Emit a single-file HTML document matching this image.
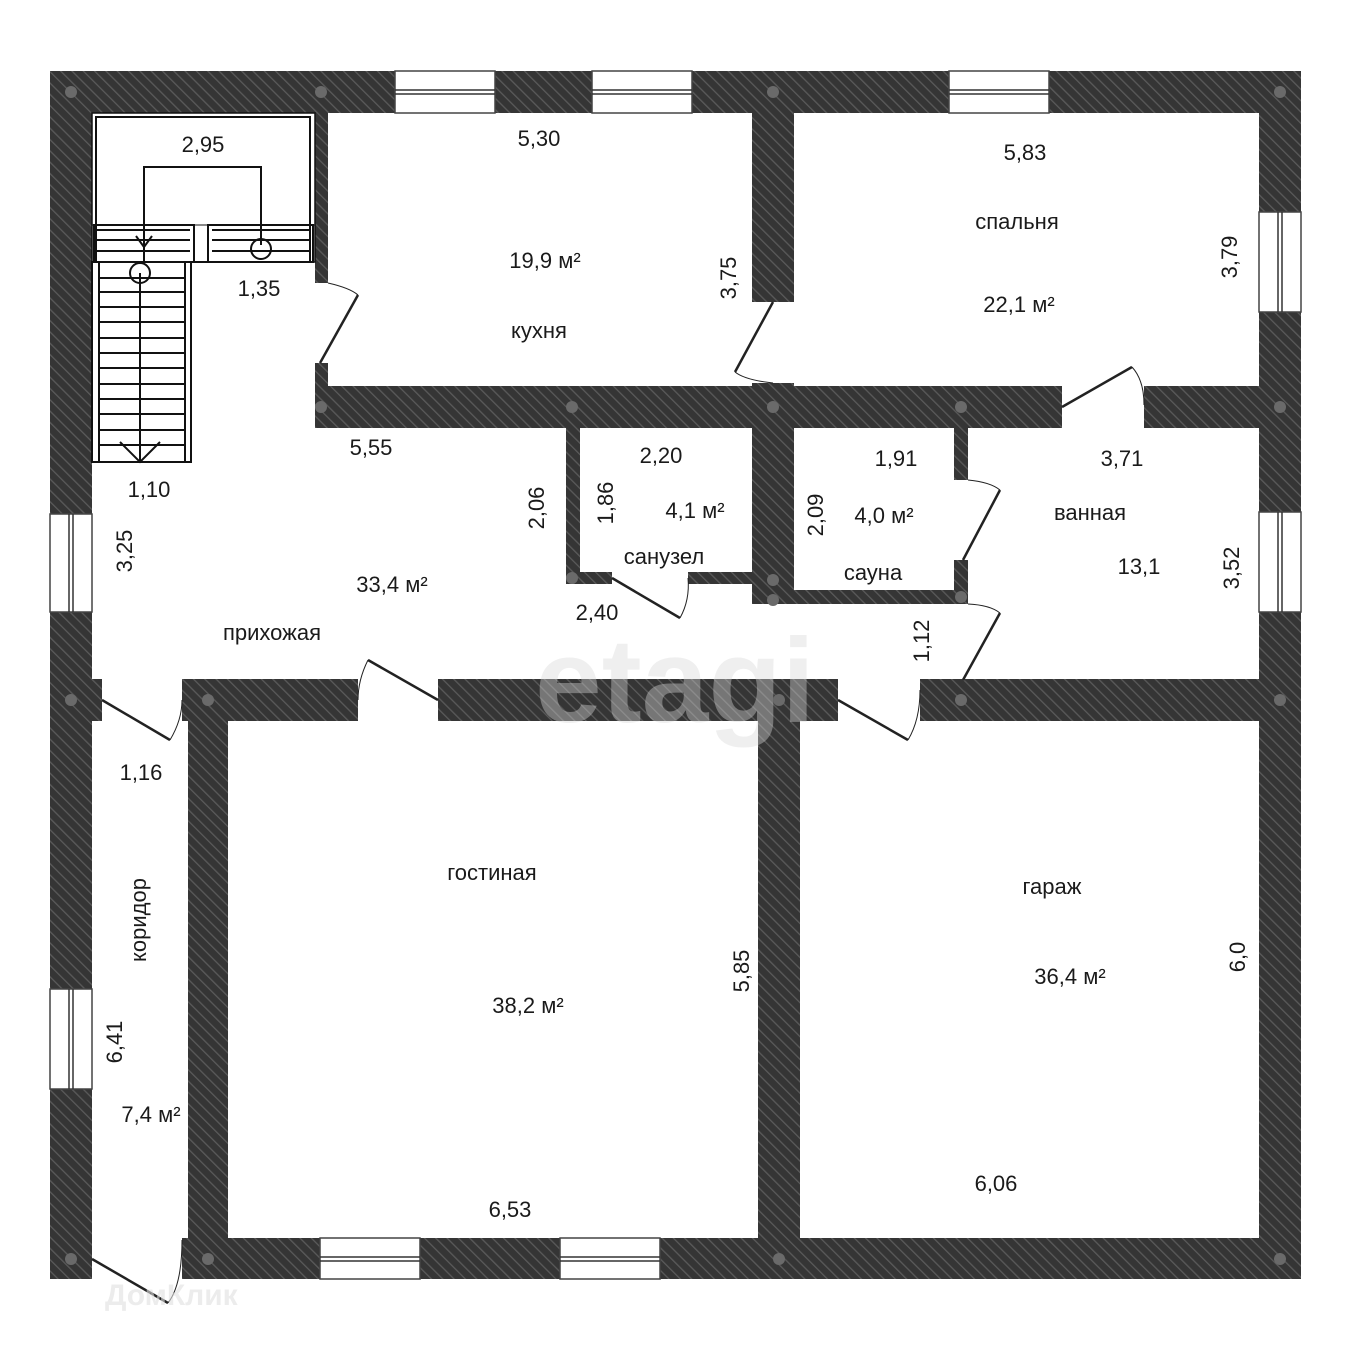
<!DOCTYPE html>
<html><head><meta charset="utf-8"><style>
html,body{margin:0;padding:0;background:#fff;}
svg{display:block;}
text{font-family:"Liberation Sans",sans-serif;font-size:22px;fill:#1a1a1a;}
</style></head><body>
<svg width="1351" height="1351" viewBox="0 0 1351 1351" xmlns="http://www.w3.org/2000/svg">
<defs>
<pattern id="h" width="8" height="8" patternUnits="userSpaceOnUse" patternTransform="rotate(-45)">
<rect width="8" height="8" fill="#353535"/>
<rect width="1.3" height="8" fill="#5a5a5a"/>
</pattern>
</defs>
<rect width="1351" height="1351" fill="#fff"/>
<g fill="url(#h)">
<rect x="50" y="71" width="1251" height="42"/>
<rect x="50" y="71" width="42" height="1208"/>
<rect x="1259" y="71" width="42" height="1208"/>
<rect x="182" y="1238" width="1119" height="41"/>
<rect x="50" y="1238" width="42" height="41"/>
<rect x="315" y="113" width="13" height="170"/>
<rect x="315" y="363" width="13" height="65"/>
<rect x="315" y="386" width="747" height="42"/>
<rect x="1144" y="386" width="115" height="42"/>
<rect x="752" y="113" width="42" height="189"/>
<rect x="752" y="383" width="42" height="45"/>
<rect x="566" y="428" width="14" height="156"/>
<rect x="566" y="572" width="46" height="12"/>
<rect x="688" y="572" width="64" height="12"/>
<rect x="752" y="428" width="42" height="176"/>
<rect x="794" y="590" width="172" height="14"/>
<rect x="954" y="428" width="14" height="52"/>
<rect x="954" y="560" width="14" height="44"/>
<rect x="50" y="679" width="52" height="42"/>
<rect x="182" y="679" width="176" height="42"/>
<rect x="438" y="679" width="400" height="42"/>
<rect x="920" y="679" width="339" height="42"/>
<rect x="188" y="679" width="40" height="600"/>
<rect x="758" y="679" width="42" height="600"/>
</g>
<text x="675" y="722" text-anchor="middle" style="font-size:120px;font-weight:bold;fill:#d8d8d8;opacity:0.4">etagi</text>
<g fill="#fff" stroke="#444" stroke-width="1.5">
<rect x="395" y="71" width="100" height="42"/><rect x="592" y="71" width="100" height="42"/><rect x="949" y="71" width="100" height="42"/>
<rect x="1259" y="212" width="42" height="100"/><rect x="1259" y="512" width="42" height="100"/>
<rect x="50" y="514" width="42" height="98"/><rect x="50" y="989" width="42" height="100"/>
<rect x="320" y="1238" width="100" height="41"/><rect x="560" y="1238" width="100" height="41"/>
</g>
<g stroke="#333" stroke-width="1.5">
<line x1="395" y1="90" x2="495" y2="90"/><line x1="395" y1="94" x2="495" y2="94"/>
<line x1="592" y1="90" x2="692" y2="90"/><line x1="592" y1="94" x2="692" y2="94"/>
<line x1="949" y1="90" x2="1049" y2="90"/><line x1="949" y1="94" x2="1049" y2="94"/>
<line x1="1278" y1="212" x2="1278" y2="312"/><line x1="1282" y1="212" x2="1282" y2="312"/>
<line x1="1278" y1="512" x2="1278" y2="612"/><line x1="1282" y1="512" x2="1282" y2="612"/>
<line x1="69" y1="514" x2="69" y2="612"/><line x1="73" y1="514" x2="73" y2="612"/>
<line x1="69" y1="989" x2="69" y2="1089"/><line x1="73" y1="989" x2="73" y2="1089"/>
<line x1="320" y1="1257" x2="420" y2="1257"/><line x1="320" y1="1261" x2="420" y2="1261"/>
<line x1="560" y1="1257" x2="660" y2="1257"/><line x1="560" y1="1261" x2="660" y2="1261"/>
</g>
<g fill="none" stroke="#111" stroke-width="2">
<rect x="92" y="113" width="223" height="149" stroke-width="1.5"/>
<rect x="96" y="117" width="214" height="145"/>
<line x1="92" y1="225" x2="315" y2="225" stroke-width="1"/>
<rect x="94" y="225" width="100" height="37"/>
<rect x="208" y="225" width="105" height="37"/>
<line x1="96" y1="230" x2="190" y2="230"/><line x1="96" y1="240" x2="190" y2="240"/><line x1="96" y1="251" x2="190" y2="251"/>
<line x1="212" y1="230" x2="310" y2="230"/><line x1="212" y1="240" x2="310" y2="240"/><line x1="212" y1="251" x2="310" y2="251"/>
<rect x="92" y="262" width="99" height="200"/>
<line x1="99" y1="262" x2="99" y2="462"/><line x1="185" y1="262" x2="185" y2="462"/>
<path d="M100 278H184M100 292H184M100 307H184M100 322H184M100 338H184M100 353H184M100 368H184M100 384H184M100 399H184M100 414H184M100 430H184M100 445H184"/>
<path d="M144 262V167H261V245"/>
<path d="M144 167V245M136 236L144 247L152 236"/>
<circle cx="261" cy="249" r="10"/>
<circle cx="140" cy="273" r="10"/>
<path d="M140 273V462M120 442L140 462L160 442"/>
</g>
<g fill="none" stroke="#222" stroke-width="2.5">
<line x1="320" y1="363" x2="358" y2="295"/>
<line x1="735" y1="372" x2="773" y2="302"/>
<line x1="1062" y1="407" x2="1132" y2="367"/>
<line x1="963" y1="560" x2="1000" y2="490"/>
<line x1="612" y1="578" x2="680" y2="618"/>
<line x1="963" y1="680" x2="1000" y2="613"/>
<line x1="838" y1="700" x2="908" y2="740"/>
<line x1="438" y1="700" x2="368" y2="660"/>
<line x1="102" y1="700" x2="170" y2="740"/>
<line x1="92" y1="1259" x2="168" y2="1303"/>
</g>
<g fill="none" stroke="#222" stroke-width="1">
<path d="M328 283Q350 288 358 295"/>
<path d="M735 372Q745 380 773 383"/>
<path d="M1132 367Q1144 380 1144 405"/>
<path d="M968 480Q990 482 1000 490"/>
<path d="M680 618Q690 600 688 578"/>
<path d="M968 604Q990 605 1000 613"/>
<path d="M908 740Q920 720 920 690"/>
<path d="M368 660Q358 680 358 700"/>
<path d="M170 740Q182 720 182 700"/>
<path d="M168 1303Q182 1285 182 1240"/>
</g>
<g fill="#6a6a6a">
<circle cx="71" cy="92" r="6"/><circle cx="321" cy="92" r="6"/><circle cx="773" cy="92" r="6"/><circle cx="1280" cy="92" r="6"/>
<circle cx="321" cy="407" r="6"/><circle cx="572" cy="407" r="6"/><circle cx="773" cy="407" r="6"/><circle cx="961" cy="407" r="6"/><circle cx="1280" cy="407" r="6"/>
<circle cx="572" cy="578" r="6"/><circle cx="773" cy="580" r="6"/><circle cx="773" cy="600" r="6"/><circle cx="961" cy="597" r="6"/>
<circle cx="71" cy="700" r="6"/><circle cx="208" cy="700" r="6"/><circle cx="779" cy="700" r="6"/><circle cx="961" cy="700" r="6"/><circle cx="1280" cy="700" r="6"/>
<circle cx="71" cy="1259" r="6"/><circle cx="208" cy="1259" r="6"/><circle cx="779" cy="1259" r="6"/><circle cx="1280" cy="1259" r="6"/>
</g>
<g text-anchor="middle">
<text x="203" y="152">2,95</text>
<text x="539" y="146">5,30</text>
<text x="1025" y="160">5,83</text>
<text x="1017" y="229">спальня</text>
<text x="545" y="268">19,9 м²</text>
<text x="1019" y="312">22,1 м²</text>
<text x="259" y="296">1,35</text>
<text x="539" y="338">кухня</text>
<text x="371" y="455">5,55</text>
<text x="661" y="463">2,20</text>
<text x="896" y="466">1,91</text>
<text x="1122" y="466">3,71</text>
<text x="149" y="497">1,10</text>
<text x="695" y="518">4,1 м²</text>
<text x="884" y="523">4,0 м²</text>
<text x="1090" y="520">ванная</text>
<text x="664" y="564">санузел</text>
<text x="1139" y="574">13,1</text>
<text x="873" y="580">сауна</text>
<text x="392" y="592">33,4 м²</text>
<text x="597" y="620">2,40</text>
<text x="272" y="640">прихожая</text>
<text x="141" y="780">1,16</text>
<text x="492" y="880">гостиная</text>
<text x="1052" y="894">гараж</text>
<text x="1070" y="984">36,4 м²</text>
<text x="528" y="1013">38,2 м²</text>
<text x="151" y="1122">7,4 м²</text>
<text x="996" y="1191">6,06</text>
<text x="510" y="1217">6,53</text>
</g>
<g text-anchor="middle">
<text transform="translate(736,278) rotate(-90)">3,75</text>
<text transform="translate(1237,257) rotate(-90)">3,79</text>
<text transform="translate(544,508) rotate(-90)">2,06</text>
<text transform="translate(613,503) rotate(-90)">1,86</text>
<text transform="translate(823,515) rotate(-90)">2,09</text>
<text transform="translate(132,551) rotate(-90)">3,25</text>
<text transform="translate(1239,568) rotate(-90)">3,52</text>
<text transform="translate(929,641) rotate(-90)">1,12</text>
<text transform="translate(146,920) rotate(-90)">коридор</text>
<text transform="translate(749,971) rotate(-90)">5,85</text>
<text transform="translate(1245,957) rotate(-90)">6,0</text>
<text transform="translate(122,1042) rotate(-90)">6,41</text>
</g>
<text x="105" y="1305" style="font-size:30px;font-weight:bold;fill:#e0e0e0;opacity:0.6">ДомКлик</text>
</svg>
</body></html>
